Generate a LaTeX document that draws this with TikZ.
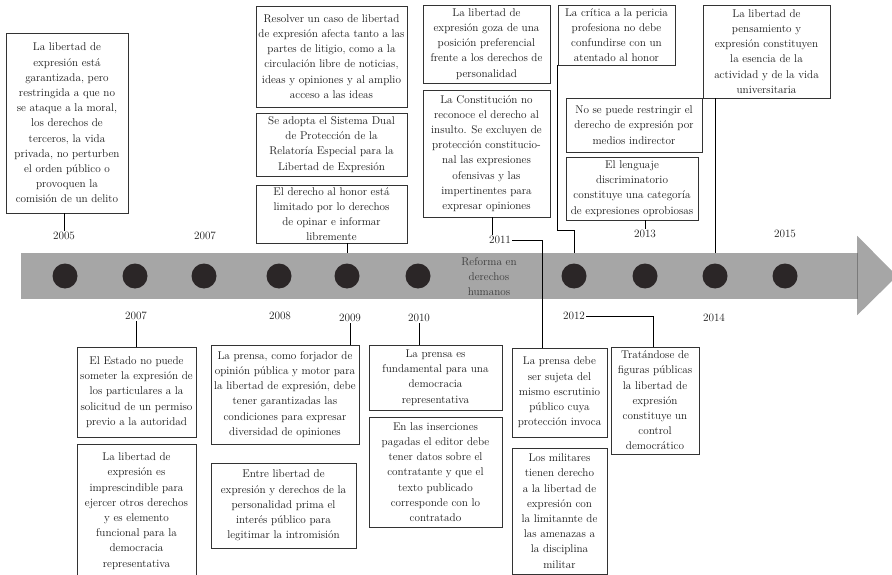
\documentclass[tikz,border=0pt]{standalone}
\usepackage{fontspec}
\usetikzlibrary{calc}
\definecolor{barfill}{HTML}{A6A6A6}
\definecolor{baredge}{HTML}{7A7A7A}
\definecolor{dotfill}{HTML}{2B2627}
\definecolor{ink}{HTML}{1A1A1A}
\definecolor{frame}{HTML}{333333}
\begin{document}
\begin{tikzpicture}[x=1pt,y=-1pt,
  every node/.style={font=\fontsize{11.2}{15.2}\selectfont, text=ink},
  box/.style={draw=frame, line width=0.9pt, fill=white, align=center, inner sep=1pt},
  yr/.style={inner sep=1pt},
  link/.style={draw=black, line width=0.8pt},
  dot/.style={circle, fill=dotfill, minimum size=25pt, inner sep=0pt}]
\useasboundingbox (0,0) rectangle (892,575);
\clip (0,0) rectangle (892,575);

% timeline bar and arrow head
\node[fill=barfill, minimum width=836pt, minimum height=46pt, inner sep=0pt] (bar) at (439,276) {};
\fill[barfill] (bar.north east) ++(0,-17) -- (897,276) -- ($(bar.south east)+(0,16)$) -- cycle;
\draw[baredge, line width=0.6pt] (bar.north east) -- (bar.south east);

% dots
\foreach \x [count=\i] in {65,135,204,279,347,418,574,645,715,785}
  \node[dot] (dot\i) at (\x,276) {};

\node[text=ink!85, align=center, font=\fontsize{11.2}{15}\selectfont] (reforma) at (489,277) {Reforma en\\derechos\\humanos};

% year labels
\node[yr] (y2005) at (64,236) {2005};
\node[yr] (y2007t) at (205,236) {2007};
\node[yr] (y2011) at (500,240) {2011};
\node[yr] (y2013) at (645,234) {2013};
\node[yr] (y2015) at (785,234) {2015};
\node[yr] (y2007b) at (136,316) {2007};
\node[yr] (y2008) at (280,316) {2008};
\node[yr] (y2009) at (350,318) {2009};
\node[yr] (y2010) at (419,318) {2010};
\node[yr] (y2012) at (574,316) {2012};
\node[yr] (y2014) at (714,318) {2014};

% upper boxes
\node[box, minimum width=122pt, minimum height=180pt] (b2005) at (67,123)
  {La libertad de\\expresión está\\garantizada, pero\\restringida a que no\\se ataque a la moral,\\los derechos de\\terceros, la vida\\privada, no perturben\\el orden público o\\provoquen la\\comisión de un delito};
\node[box, minimum width=151pt, minimum height=101pt] (resolver) at (331.5,56.5)
  {Resolver un caso de libertad\\de expresión afecta tanto a las\\partes de litigio, como a la\\circulación libre de noticias,\\ideas y opiniones y al amplio\\acceso a las ideas};
\node[box, minimum width=151pt, minimum height=63pt] (adopta) at (331.5,144.5)
  {Se adopta el Sistema Dual\\de Protección de la\\Relatoría Especial para la\\Libertad de Expresión};
\node[box, minimum width=151pt, minimum height=58pt] (honor) at (331.5,214)
  {El derecho al honor está\\limitado por lo derechos\\de opinar e informar\\libremente};
\node[box, minimum width=127pt, minimum height=78pt] (goza) at (486.5,44)
  {La libertad de\\expresión goza de una\\posición preferencial\\frente a los derechos de\\personalidad};
\node[box, minimum width=127pt, minimum height=127pt] (const) at (486.5,153.5)
  {La Constitución no\\reconoce el derecho al\\insulto. Se excluyen de\\protección constitucio-\\nal las expresiones\\ofensivas y las\\impertinentes para\\expresar opiniones};
\node[box, minimum width=117pt, minimum height=60pt] (critica) at (616.5,35)
  {La crítica a la pericia\\profesiona no debe\\confundirse con un\\atentado al honor};
\node[box, minimum width=136pt, minimum height=54pt] (restr) at (634,125)
  {No se puede restringir el\\derecho de expresión por\\medios indirector};
\node[box, minimum width=132pt, minimum height=63pt] (lenguaje) at (632,188.5)
  {El lenguaje\\discriminatorio\\constituye una categoría\\de expresiones oprobiosas};
\node[box, minimum width=127pt, minimum height=93pt] (pens) at (766.5,51.5)
  {La libertad de\\pensamiento y\\expresión constituyen\\la esencia de la\\actividad y de la vida\\universitaria};

% lower boxes
\node[box, minimum width=119pt, minimum height=90pt] (estado) at (136.5,392)
  {El Estado no puede\\someter la expresión de\\los particulares a la\\solicitud de un permiso\\previo a la autoridad};
\node[box, minimum width=119pt, minimum height=134pt] (impresc) at (136.5,511)
  {La libertad de\\expresión es\\imprescindible para\\ejercer otros derechos\\y es elemento\\funcional para la\\democracia\\representativa};
\node[box, minimum width=148pt, minimum height=99pt] (forj) at (285,394.5)
  {La prensa, como forjador de\\opinión pública y motor para\\la libertad de expresión, debe\\tener garantizadas las\\condiciones para expresar\\diversidad de opiniones};
\node[box, minimum width=145pt, minimum height=85pt] (entre) at (283.5,505.5)
  {Entre libertad de\\expresión y derechos de la\\personalidad prima el\\interés público para\\legitimar la intromisión};
\node[box, minimum width=133pt, minimum height=65pt] (fund) at (435.5,377.5)
  {La prensa es\\fundamental para una\\democracia\\representativa};
\node[box, minimum width=133pt, minimum height=110pt] (insert) at (435.5,472)
  {En las inserciones\\pagadas el editor debe\\tener datos sobre el\\contratante y que el\\texto publicado\\corresponde con lo\\contratado};
\node[box, minimum width=95pt, minimum height=89pt] (pdebe) at (559.5,392.5)
  {La prensa debe\\ser sujeta del\\mismo escrutinio\\público cuya\\protección invoca};
\node[box, minimum width=95pt, minimum height=126pt] (milit) at (559.5,511)
  {Los militares\\tienen derecho\\a la libertad de\\expresión con\\la limitannte de\\las amenazas a\\la disciplina\\militar};
\node[box, minimum width=88pt, minimum height=107pt] (trat) at (655,400.5)
  {Tratándose de\\figuras públicas\\la libertad de\\expresión\\constituye un\\control\\democrático};

% connectors above the bar
\coordinate (critbend) at (574,230);
\draw[link] (b2005.south -| y2005) -- (y2005.north);
\draw[link] (honor.south -| dot5) -- (dot5 |- bar.north);
\draw[link] ($(const.south)+(5.5,0)$) -- ($(y2011.north -| const.south)+(5.5,0)$);
\draw[link] (y2011.east) -| ($(pdebe.north west)+(31,0)$);
\draw[link] (critica.south west) |- (critbend) -- (dot7 |- bar.north);
\draw[link] (lenguaje.south -| y2013) -- (y2013.north);
\draw[link] (pens.south -| dot9) -- (dot9 |- bar.north);

% connectors below the bar
\draw[link] (y2007b.south) -- (y2007b.south |- estado.north);
\draw[link] (y2009.south) -- (y2009.south |- forj.north);
\draw[link] (y2010.south) -- (y2010.south |- fund.north);
\draw[link] (y2012.east) -| ($(trat.north)+(-2,0)$);
\end{tikzpicture}
\end{document}
